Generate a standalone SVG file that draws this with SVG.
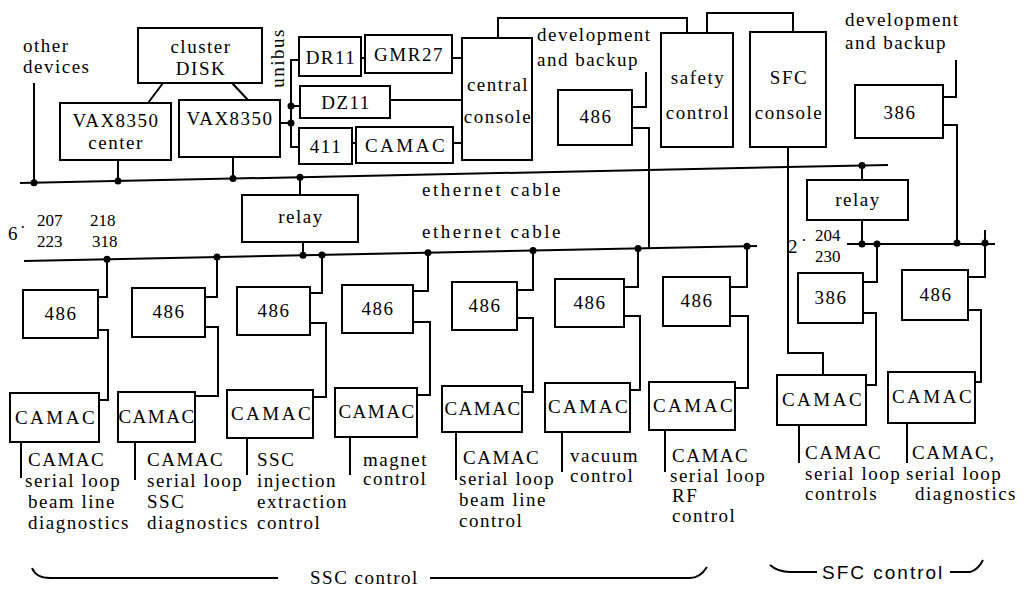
<svg xmlns="http://www.w3.org/2000/svg" width="1026" height="603" viewBox="0 0 1026 603">
<style>
.b{fill:#fff;stroke:#000;stroke-width:2}
.l{fill:none;stroke:#000;stroke-width:2}
.t{font-family:"Liberation Serif","DejaVu Serif",serif;font-size:19px;letter-spacing:1.5px;fill:#000}
.c{text-anchor:middle}
.w{letter-spacing:2.5px}
.s{font-family:"Liberation Serif","DejaVu Serif",serif;font-size:17px;fill:#000}
.ss{font-family:"Liberation Sans",sans-serif;font-size:19px;letter-spacing:2px;fill:#000}
.d{fill:#000}
</style>
<rect width="1026" height="603" fill="#fff"/>
<g id="connectors">
<path class="l" d="M20,183 L888,165"/>
<path class="l" d="M24,261 L757,246"/>
<path class="l" d="M847,244 H995"/>
<path class="l" d="M34,83 V182.7"/>
<path class="l" d="M163,83 L148,103 M232,83 L248,100"/>
<path class="l" d="M118,160 V181 M233,157 V178.6"/>
<path class="l" d="M300,177 V195 M303,242 V255"/>
<path class="l" d="M299,60 H291 V147 H299 M291,106 H300 M280,123 H291"/>
<path class="l" d="M361,58 H365 M452,58 H462 M390,100 H462 M352,143 H356 M453,143 H462"/>
<path class="l" d="M498,38 V18 H687 V33"/>
<path class="l" d="M707,33 V13 H793 V32"/>
<path class="l" d="M646,72 V107 H632 M632,128 H649 V248"/>
<path class="l" d="M788,147 V353 H823 V375"/>
<path class="l" d="M862,166 V180 M862,220 V244"/>
<path class="l" d="M956,60 V97 H943 M943,125 H957 V243"/>
<path class="l" d="M877,244 V282 H863 M863,313 H876 V385 H866"/>
<path class="l" d="M985,230 V277 H968 M968,310 H981 V382 H975"/>
<path class="l" d="M107,259 V297 H98 M98,330 H108 V400 H99"/>
<path class="l" d="M217,257 V297 H205 M205,327 H218 V396 H195"/>
<path class="l" d="M322,255 V293 H310 M310,323 H326 V397 H313"/>
<path class="l" d="M428,253 V291 H413 M413,322 H430 V395 H417"/>
<path class="l" d="M533,251 V290 H517 M517,318 H533 V392 H522"/>
<path class="l" d="M638,248 V287 H624 M624,316 H640 V390 H630"/>
<path class="l" d="M747,246 V287 H730 M730,316 H748 V388 H735"/>
<path class="l" d="M21,442 V478 M135,442 V480 M247,438 V475 M350,437 V475 M456,432 V480 M562,432 V472 M665,430 V472 M799,425 V463 M907,423 V463"/>
<g class="d">
<circle cx="34" cy="182.7" r="3.5"/><circle cx="118" cy="181" r="3.5"/><circle cx="233" cy="178.6" r="3.5"/><circle cx="300" cy="177.2" r="3.5"/><circle cx="862" cy="165.6" r="3.5"/>
<circle cx="291" cy="106" r="3.5"/><circle cx="291" cy="123" r="3.5"/>
<circle cx="107" cy="259.3" r="3.5"/><circle cx="217" cy="257" r="3.5"/><circle cx="303" cy="255.3" r="3.5"/><circle cx="322" cy="254.9" r="3.5"/><circle cx="428" cy="252.7" r="3.5"/><circle cx="533" cy="250.6" r="3.5"/><circle cx="638" cy="248.4" r="3.5"/><circle cx="747" cy="246.2" r="3.5"/>
<circle cx="862" cy="244" r="3.5"/><circle cx="877" cy="244" r="3.5"/><circle cx="957" cy="243" r="3.5"/><circle cx="985" cy="243" r="3.5"/>
</g>
</g>
<g id="labels">
<text class="t" x="23" y="52">other</text>
<text class="t" x="23" y="73">devices</text>
<text class="t" transform="translate(284,58) rotate(-90)" text-anchor="middle">unibus</text>
<text class="t" x="537" y="41">development</text>
<text class="t" x="537" y="66">and backup</text>
<text class="t" x="845" y="26">development</text>
<text class="t" x="845" y="49">and backup</text>
<text class="t w" x="422" y="196">ethernet cable</text>
<text class="t w" x="422" y="238">ethernet cable</text>
<text class="t" x="8" y="240">6</text><text class="s" x="20" y="233">·</text>
<text class="s" x="37" y="226">207</text><text class="s" x="90" y="226">218</text>
<text class="s" x="37" y="247">223</text><text class="s" x="92" y="247">318</text>
<text class="t" x="788" y="253">2</text><text class="s" x="801" y="246">·</text>
<text class="s" x="815" y="241">204</text><text class="s" x="815" y="262">230</text>
</g>
<g id="cluster-disk"><rect class="b" x="138" y="28" width="124" height="55"/><text class="t c" x="201" y="53">cluster</text><text class="t c" x="201" y="75">DISK</text></g>
<g id="vax-center"><rect class="b" x="60" y="103" width="111" height="57"/><text class="t c" x="116" y="127">VAX8350</text><text class="t c" x="116" y="149">center</text></g>
<g id="vax-2"><rect class="b" x="179" y="100" width="101" height="57"/><text class="t c" x="230" y="125">VAX8350</text></g>
<g id="dr11"><rect class="b" x="299" y="37" width="62" height="39"/><text class="t c" x="331" y="64">DR11</text></g>
<g id="gmr27"><rect class="b" x="365" y="35" width="87" height="38"/><text class="t c" x="409" y="61">GMR27</text></g>
<g id="dz11"><rect class="b" x="300" y="86" width="90" height="32"/><text class="t c" x="346" y="109">DZ11</text></g>
<g id="n411"><rect class="b" x="299" y="128" width="53" height="36"/><text class="t c" x="326" y="153">411</text></g>
<g id="camac-u"><rect class="b" x="356" y="127" width="97" height="36"/><text class="t c w" x="406" y="152">CAMAC</text></g>
<g id="central-console"><rect class="b" x="462" y="38" width="70" height="122"/><text class="t c" x="498" y="91">central</text><text class="t c" x="498" y="123">console</text></g>
<g id="dev-486"><rect class="b" x="558" y="90" width="74" height="55"/><text class="t c" x="596" y="123">486</text></g>
<g id="safety-control"><rect class="b" x="661" y="33" width="72" height="114"/><text class="t c" x="698" y="84">safety</text><text class="t c" x="698" y="119">control</text></g>
<g id="sfc-console"><rect class="b" x="750" y="32" width="76" height="115"/><text class="t c" x="789" y="84">SFC</text><text class="t c" x="789" y="119">console</text></g>
<g id="dev-386"><rect class="b" x="855" y="85" width="88" height="53"/><text class="t c" x="900" y="119">386</text></g>
<g id="relay-left"><rect class="b" x="242" y="195" width="116" height="47"/><text class="t c" x="301" y="223">relay</text></g>
<g id="relay-right"><rect class="b" x="807" y="180" width="101" height="40"/><text class="t c" x="858" y="206">relay</text></g>
<g id="p486-1"><rect class="b" x="23" y="290" width="75" height="48"/><text class="t c" x="61" y="320">486</text></g>
<g id="p486-2"><rect class="b" x="132" y="288" width="73" height="49"/><text class="t c" x="169" y="318">486</text></g>
<g id="p486-3"><rect class="b" x="237" y="287" width="73" height="48"/><text class="t c" x="274" y="317">486</text></g>
<g id="p486-4"><rect class="b" x="342" y="285" width="71" height="48"/><text class="t c" x="378" y="315">486</text></g>
<g id="p486-5"><rect class="b" x="452" y="282" width="65" height="48"/><text class="t c" x="485" y="312">486</text></g>
<g id="p486-6"><rect class="b" x="555" y="279" width="69" height="48"/><text class="t c" x="590" y="309">486</text></g>
<g id="p486-7"><rect class="b" x="663" y="277" width="67" height="49"/><text class="t c" x="697" y="307">486</text></g>
<g id="sfc-386"><rect class="b" x="798" y="273" width="65" height="50"/><text class="t c" x="831" y="304">386</text></g>
<g id="sfc-486"><rect class="b" x="902" y="270" width="66" height="50"/><text class="t c" x="936" y="301">486</text></g>
<g id="camac-1"><rect class="b" x="10" y="393" width="89" height="49"/><text class="t c w" x="56" y="424">CAMAC</text></g>
<g id="camac-2"><rect class="b" x="118" y="392" width="77" height="50"/><text class="t c" x="157" y="423">CAMAC</text></g>
<g id="camac-3"><rect class="b" x="227" y="390" width="86" height="48"/><text class="t c w" x="272" y="420">CAMAC</text></g>
<g id="camac-4"><rect class="b" x="335" y="388" width="82" height="49"/><text class="t c" x="377" y="418">CAMAC</text></g>
<g id="camac-5"><rect class="b" x="442" y="386" width="80" height="46"/><text class="t c" x="483" y="415">CAMAC</text></g>
<g id="camac-6"><rect class="b" x="545" y="383" width="85" height="49"/><text class="t c w" x="589" y="413">CAMAC</text></g>
<g id="camac-7"><rect class="b" x="649" y="382" width="86" height="48"/><text class="t c w" x="694" y="412">CAMAC</text></g>
<g id="camac-8"><rect class="b" x="777" y="375" width="89" height="50"/><text class="t c w" x="823" y="406">CAMAC</text></g>
<g id="camac-9"><rect class="b" x="888" y="372" width="87" height="51"/><text class="t c w" x="933" y="403">CAMAC</text></g>
<g id="label-1"><text class="t" x="28" y="466">CAMAC</text><text class="t" x="25" y="487">serial loop</text><text class="t" x="28" y="508">beam line</text><text class="t" x="28" y="529">diagnostics</text></g>
<g id="label-2"><text class="t" x="147" y="466">CAMAC</text><text class="t" x="147" y="487">serial loop</text><text class="t" x="147" y="508">SSC</text><text class="t" x="147" y="529">diagnostics</text></g>
<g id="label-3"><text class="t" x="257" y="466">SSC</text><text class="t" x="257" y="487">injection</text><text class="t" x="257" y="508">extraction</text><text class="t" x="257" y="529">control</text></g>
<g id="label-4"><text class="t" x="363" y="466">magnet</text><text class="t" x="363" y="485">control</text></g>
<g id="label-5"><text class="t" x="463" y="464">CAMAC</text><text class="t" x="459" y="485">serial loop</text><text class="t" x="459" y="506">beam line</text><text class="t" x="459" y="527">control</text></g>
<g id="label-6"><text class="t" x="570" y="462">vacuum</text><text class="t" x="570" y="482">control</text></g>
<g id="label-7"><text class="t" x="672" y="462">CAMAC</text><text class="t" x="670" y="482">serial loop</text><text class="t" x="672" y="502">RF</text><text class="t" x="672" y="522">control</text></g>
<g id="label-8"><text class="t" x="805" y="459">CAMAC</text><text class="t" x="805" y="480">serial loop</text><text class="t" x="805" y="500">controls</text></g>
<g id="label-9"><text class="t" x="912" y="459">CAMAC,</text><text class="t" x="906" y="480">serial loop</text><text class="t" x="915" y="500">diagnostics</text></g>
<g id="ssc-control"><path class="l" d="M32,568 Q36,578 50,578 H278 M430,578 H690 Q700,578 707,567"/><text class="t" x="310" y="584">SSC control</text></g>
<g id="sfc-control"><path class="l" d="M770,565 Q778,572 790,572 H817 M950,572 H970 Q978,570 983,560"/><text class="ss" x="822" y="579">SFC control</text></g>
</svg>
